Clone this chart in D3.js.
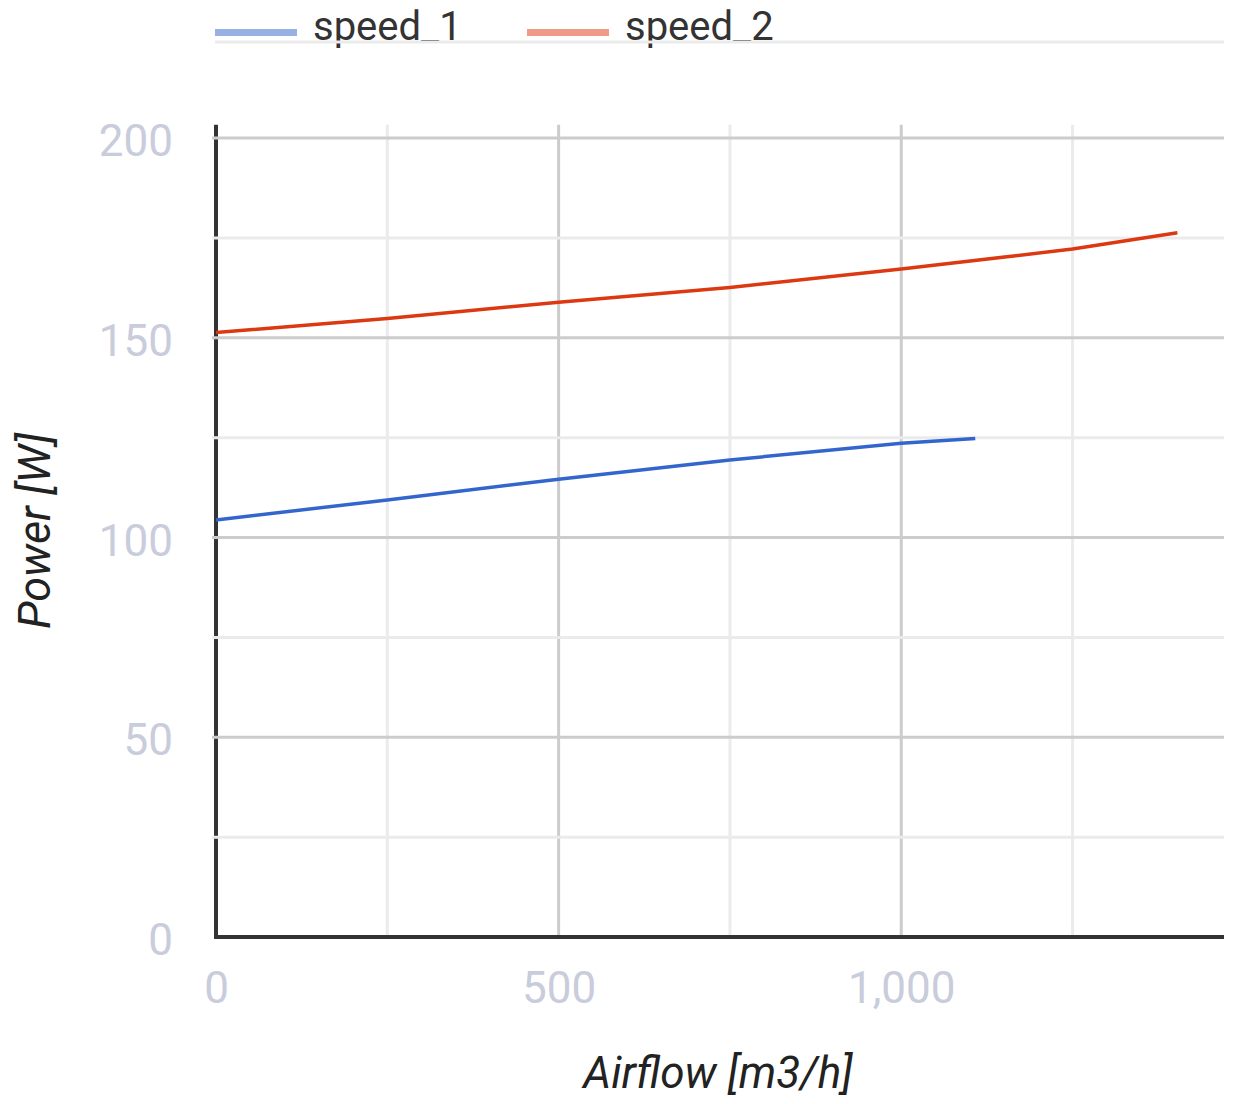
<!DOCTYPE html>
<html>
<head>
<meta charset="utf-8">
<script src="https://cdn.jsdelivr.net/npm/d3@7"></script>
<style>
  body { margin: 0; background: #fff; }
  text { font-family: Roboto, "Noto Sans", sans-serif; }
</style>
</head>
<body>
<div id="chart"></div>
<script>
// data
const seriesNames = ["speed_1", "speed_2"];
const speed1Airflow = [0, 250, 500, 750, 1000, 1108];
const speed1Power = [104.4, 109.4, 114.6, 119.4, 123.6, 124.8];
const speed2Airflow = [0, 250, 500, 750, 1000, 1250, 1403];
const speed2Power = [151.3, 154.8, 158.9, 162.6, 167.2, 172.2, 176.3];
const yTicks = [0, 50, 100, 150, 200];
const yMinor = [25, 75, 125, 175];
const xTicks = [0, 500, 1000];
const xMinor = [250, 750, 1250];

const fullwidth = 1240, fullheight = 1104;
const colors = ["#3366cc", "#dc3912"];
const legendColors = ["#97b1e5", "#f09b87"];

const svg = d3.select("#chart").append("svg")
  .attr("width", fullwidth)
  .attr("height", fullheight);

const x = d3.scaleLinear().domain([0, 1471]).range([216, 1224]);
const y = d3.scaleLinear().domain([0, 200]).range([937, 138]);
const plotTop = y(203.3);

// left axis line (gridlines are drawn over it)
svg.append("line")
  .attr("x1", x(0)).attr("x2", x(0))
  .attr("y1", plotTop).attr("y2", y(0))
  .attr("stroke", "#333").attr("stroke-width", 4);

// vertical gridlines
svg.append("g").selectAll("line")
  .data(xMinor.concat(xTicks.filter(d => d > 0)))
  .enter().append("line")
  .attr("x1", d => x(d)).attr("x2", d => x(d))
  .attr("y1", plotTop).attr("y2", y(0))
  .attr("stroke", d => xMinor.includes(d) ? "#ebebeb" : "#cccccc")
  .attr("stroke-width", 3);

// horizontal gridlines
svg.append("g").selectAll("line")
  .data(yMinor.concat(yTicks.filter(d => d > 0)))
  .enter().append("line")
  .attr("x1", 212).attr("x2", 1224)
  .attr("y1", d => y(d)).attr("y2", d => y(d))
  .attr("stroke", d => yMinor.includes(d) ? "#ebebeb" : "#cccccc")
  .attr("stroke-width", 3);

// bottom axis line
svg.append("line")
  .attr("x1", x(0) - 2).attr("x2", 1224)
  .attr("y1", y(0)).attr("y2", y(0))
  .attr("stroke", "#333").attr("stroke-width", 4);

// tick labels
const yAxis = svg.append("g")
  .attr("transform", `translate(${x(0)},0)`)
  .call(d3.axisLeft(y).tickValues(yTicks).tickSize(0).tickPadding(43));
yAxis.select(".domain").remove();
yAxis.selectAll("text")
  .attr("font-size", 44).attr("fill", "#c8ccdb")
  .attr("dy", "0.4em")
  .style("font-family", "Roboto, sans-serif");

const xAxis = svg.append("g")
  .attr("transform", `translate(0,${y(0)})`)
  .call(d3.axisBottom(x).tickValues(xTicks).tickSize(0).tickPadding(35).tickFormat(d3.format(",")));
xAxis.select(".domain").remove();
xAxis.selectAll("text")
  .attr("font-size", 44).attr("fill", "#c8ccdb")
  .style("font-family", "Roboto, sans-serif");

// series lines
const line = d3.line().x(d => x(d[0])).y(d => y(d[1]));
const series = [
  d3.zip(speed1Airflow, speed1Power),
  d3.zip(speed2Airflow, speed2Power)
];
series.forEach((pts, i) => {
  svg.append("path")
    .datum(pts)
    .attr("fill", "none")
    .attr("stroke", colors[i])
    .attr("stroke-width", 3.5)
    .attr("stroke-linejoin", "round")
    .attr("d", line);
});

// axis titles
svg.append("text")
  .attr("x", 718).attr("y", 1088)
  .attr("text-anchor", "middle")
  .attr("font-size", 44).attr("font-style", "italic").attr("fill", "#222")
  .text("Airflow [m3/h]");

svg.append("text")
  .attr("transform", "translate(50,531) rotate(-90)")
  .attr("text-anchor", "middle")
  .attr("font-size", 45).attr("font-style", "italic").attr("fill", "#222")
  .text("Power [W]");

// legend
const legendX = [215, 527];
const legend = svg.append("g");
seriesNames.forEach((name, i) => {
  legend.append("rect")
    .attr("x", legendX[i]).attr("y", 29)
    .attr("width", 82).attr("height", 7)
    .attr("fill", legendColors[i]);
  legend.append("text")
    .attr("x", legendX[i] + 98).attr("y", 40)
    .attr("font-size", 40).attr("fill", "#333")
    .text(name);
});
legend.append("line")
  .attr("x1", 215).attr("x2", 1224)
  .attr("y1", 42).attr("y2", 42)
  .attr("stroke", "#ebebeb").attr("stroke-width", 3);
</script>
</body>
</html>
